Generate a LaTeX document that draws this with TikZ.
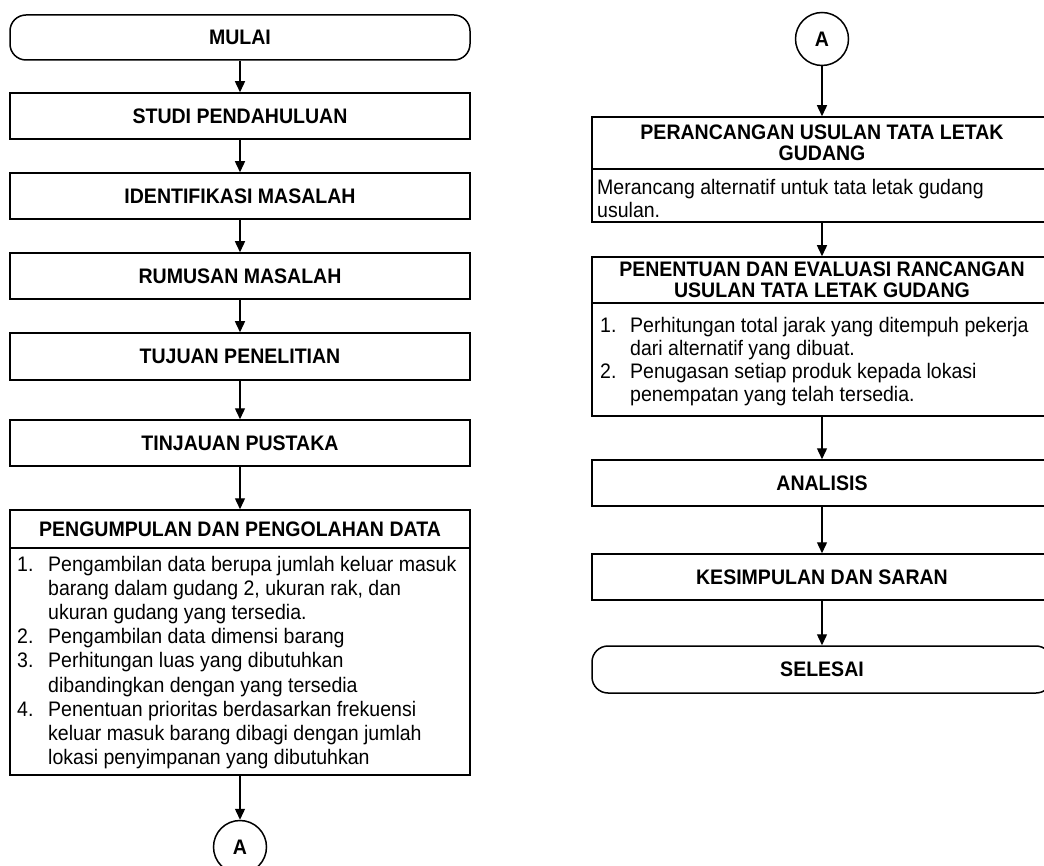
\documentclass[tikz,border=0pt]{standalone}
\usepackage{fontspec}
\setmainfont[FakeStretch=0.93]{Liberation Sans}
\usetikzlibrary{arrows.meta}
\newcommand\bodyL{\fontsize{21}{24.1}\selectfont}
\newcommand\bodyR{\fontsize{21}{23}\selectfont}
\newcommand\headfont{\fontsize{21}{21}\selectfont\bfseries}
\newcommand\nb[1]{\makebox[31pt][l]{#1}}
\begin{document}
\begin{tikzpicture}[x=1pt,y=-1pt,
  box/.style={draw, line width=1.5pt, minimum width=460pt, inner sep=0pt, font=\headfont, align=center},
  term/.style={box, rounded corners=16pt},
  conn/.style={circle, draw, line width=1.5pt, minimum size=53pt, inner sep=0pt, font=\headfont},
  arr/.style={line width=1.4pt, -{Triangle[length=11pt,width=10pt]}},
  txt/.style={anchor=base west, inner sep=0pt}]
\path[use as bounding box] (0,0) rectangle (1044,866);
\clip (0,0) rectangle (1044,866);
% left column
\node[term, minimum height=45pt] (mulai) at (240,37.5) {MULAI};
\node[box, minimum height=46pt] (studi) at (240,116) {STUDI PENDAHULUAN};
\node[box, minimum height=46pt] (ident) at (240,196) {IDENTIFIKASI MASALAH};
\node[box, minimum height=46pt] (rumus) at (240,276) {RUMUSAN MASALAH};
\node[box, minimum height=47pt] (tujuan) at (240,356.5) {TUJUAN PENELITIAN};
\node[box, minimum height=46pt] (tinjau) at (240,443) {TINJAUAN PUSTAKA};
\node[box, minimum height=38pt] (pgh) at (240,529) {PENGUMPULAN DAN PENGOLAHAN DATA};
\node[box, minimum height=227pt] (pgb) at (240,661.5) {};
\node[txt, font=\bodyL] (pgbt) at (17,571.5) {\begin{tabular}[t]{@{}l@{}l@{}}
\nb{1.} & Pengambilan data berupa jumlah keluar masuk\\
 & barang dalam gudang 2, ukuran rak, dan\\
 & ukuran gudang yang tersedia.\\
\nb{2.} & Pengambilan data dimensi barang\\
\nb{3.} & Perhitungan luas yang dibutuhkan\\
 & dibandingkan dengan yang tersedia\\
\nb{4.} & Penentuan prioritas berdasarkan frekuensi\\
 & keluar masuk barang dibagi dengan jumlah\\
 & lokasi penyimpanan yang dibutuhkan
\end{tabular}};
\node[conn] (ca) at (240,847) {A};
% right column
\node[conn] (cb) at (822,39) {A};
\node[box, minimum height=52pt] (prh) at (822,143) {PERANCANGAN USULAN TATA LETAK\\GUDANG};
\node[box, minimum height=53pt] (prb) at (822,195.5) {};
\node[txt, font=\bodyR] (prbt) at (597,195) {\begin{tabular}[t]{@{}l@{}}
Merancang alternatif untuk tata letak gudang\\
usulan.
\end{tabular}};
\node[box, minimum height=46pt] (peh) at (822,280) {PENENTUAN DAN EVALUASI RANCANGAN\\USULAN TATA LETAK GUDANG};
\node[box, minimum height=113pt] (peb) at (822,359.5) {};
\node[txt, font=\bodyR] (pebt) at (600,333) {\begin{tabular}[t]{@{}l@{}l@{}}
\makebox[30pt][l]{1.} & Perhitungan total jarak yang ditempuh pekerja\\
 & dari alternatif yang dibuat.\\
\makebox[30pt][l]{2.} & Penugasan setiap produk kepada lokasi\\
 & penempatan yang telah tersedia.
\end{tabular}};
\node[box, minimum height=46pt] (anal) at (822,483) {ANALISIS};
\node[box, minimum height=46pt] (kes) at (822,577) {KESIMPULAN DAN SARAN};
\node[term, minimum height=47pt] (sel) at (822,669.5) {SELESAI};
% connectors
\draw[arr] (mulai) -- (studi);
\draw[arr] (studi) -- (ident);
\draw[arr] (ident) -- (rumus);
\draw[arr] (rumus) -- (tujuan);
\draw[arr] (tujuan) -- (tinjau);
\draw[arr] (tinjau) -- (pgh);
\draw[arr] (pgb) -- (ca);
\draw[arr] (cb) -- (prh);
\draw[arr] (prb) -- (peh);
\draw[arr] (peb) -- (anal);
\draw[arr] (anal) -- (kes);
\draw[arr] (kes) -- (sel);
\end{tikzpicture}
\end{document}
